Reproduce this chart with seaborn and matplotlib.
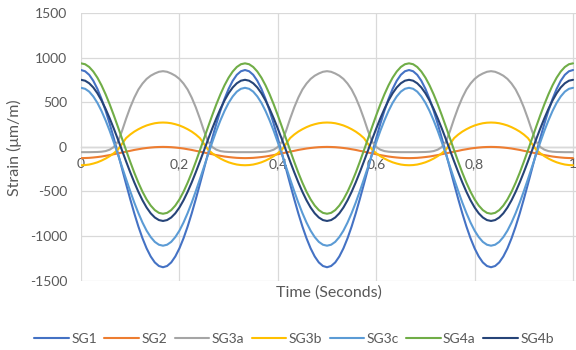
import numpy as np
import pandas as pd
import matplotlib
matplotlib.use("Agg")
import matplotlib.pyplot as plt
import seaborn as sns

# Logger runs at 120 Hz for one second
sample_rate_hz = 120
n_samples = 121
time_s = np.arange(n_samples) / sample_rate_hz

# Strain readings per gauge (um/m), one row per 1/3 s cycle
sg1 = [865, 851, 811, 744, 653, 540, 408, 260, 99, -70, -243, -416, -585, -746, -894, -1026, -1139, -1230, -1297, -1337, -1351, -1337, -1297, -1230, -1139, -1026, -894, -746, -585, -416, -243, -70, 99, 260, 408, 540, 653, 744, 811, 851,
       865, 851, 811, 744, 653, 540, 408, 260, 99, -70, -243, -416, -585, -746, -894, -1026, -1139, -1230, -1297, -1337, -1351, -1337, -1297, -1230, -1139, -1026, -894, -746, -585, -416, -243, -70, 99, 260, 408, 540, 653, 744, 811, 851,
       865, 851, 811, 744, 653, 540, 408, 260, 99, -70, -243, -416, -585, -746, -894, -1026, -1139, -1230, -1297, -1337, -1351, -1337, -1297, -1230, -1139, -1026, -894, -746, -585, -416, -243, -70, 99, 260, 408, 540, 653, 744, 811, 851,
       865]
sg2 = [-125, -124, -122, -118, -113, -107, -99, -91, -81, -72, -62, -52, -43, -33, -25, -17, -11, -6, -2, 0, 1, 0, -2, -6, -11, -17, -25, -33, -43, -52, -62, -72, -81, -91, -99, -107, -113, -118, -122, -124,
       -125, -124, -122, -118, -113, -107, -99, -91, -81, -72, -62, -52, -43, -33, -25, -17, -11, -6, -2, 0, 1, 0, -2, -6, -11, -17, -25, -33, -43, -52, -62, -72, -81, -91, -99, -107, -113, -118, -122, -124,
       -125, -124, -122, -118, -113, -107, -99, -91, -81, -72, -62, -52, -43, -33, -25, -17, -11, -6, -2, 0, 1, 0, -2, -6, -11, -17, -25, -33, -43, -52, -62, -72, -81, -91, -99, -107, -113, -118, -122, -124,
       -125]
sg3a = [-58, -58, -58, -57, -56, -53, -46, -30, 0, 60, 180, 318, 445, 555, 646, 713, 765, 801, 826, 845, 852, 845, 826, 801, 765, 713, 646, 555, 445, 318, 180, 60, 0, -30, -46, -53, -56, -57, -58, -58,
        -58, -58, -58, -57, -56, -53, -46, -30, 0, 60, 180, 318, 445, 555, 646, 713, 765, 801, 826, 845, 852, 845, 826, 801, 765, 713, 646, 555, 445, 318, 180, 60, 0, -30, -46, -53, -56, -57, -58, -58,
        -58, -58, -58, -57, -56, -53, -46, -30, 0, 60, 180, 318, 445, 555, 646, 713, 765, 801, 826, 845, 852, 845, 826, 801, 765, 713, 646, 555, 445, 318, 180, 60, 0, -30, -46, -53, -56, -57, -58, -58,
        -58]
sg3b = [-205, -203, -197, -186, -172, -153, -130, -103, -70, -30, 35, 100, 140, 173, 200, 223, 242, 256, 267, 273, 275, 273, 267, 256, 242, 223, 200, 173, 140, 100, 35, -30, -70, -103, -130, -153, -172, -186, -197, -203,
        -205, -203, -197, -186, -172, -153, -130, -103, -70, -30, 35, 100, 140, 173, 200, 223, 242, 256, 267, 273, 275, 273, 267, 256, 242, 223, 200, 173, 140, 100, 35, -30, -70, -103, -130, -153, -172, -186, -197, -203,
        -205, -203, -197, -186, -172, -153, -130, -103, -70, -30, 35, 100, 140, 173, 200, 223, 242, 256, 267, 273, 275, 273, 267, 256, 242, 223, 200, 173, 140, 100, 35, -30, -70, -103, -130, -153, -172, -186, -197, -203,
        -205]
sg3c = [665, 654, 622, 568, 496, 405, 299, 181, 52, -83, -222, -361, -496, -625, -743, -849, -940, -1012, -1066, -1098, -1109, -1098, -1066, -1012, -940, -849, -743, -625, -496, -361, -222, -83, 52, 181, 299, 405, 496, 568, 622, 654,
        665, 654, 622, 568, 496, 405, 299, 181, 52, -83, -222, -361, -496, -625, -743, -849, -940, -1012, -1066, -1098, -1109, -1098, -1066, -1012, -940, -849, -743, -625, -496, -361, -222, -83, 52, 181, 299, 405, 496, 568, 622, 654,
        665, 654, 622, 568, 496, 405, 299, 181, 52, -83, -222, -361, -496, -625, -743, -849, -940, -1012, -1066, -1098, -1109, -1098, -1066, -1012, -940, -849, -743, -625, -496, -361, -222, -83, 52, 181, 299, 405, 496, 568, 622, 654,
        665]
sg4a = [940, 930, 899, 848, 779, 693, 592, 479, 356, 227, 95, -37, -166, -289, -402, -503, -589, -658, -709, -740, -750, -740, -709, -658, -589, -503, -402, -289, -166, -37, 95, 227, 356, 479, 592, 693, 779, 848, 899, 930,
        940, 930, 899, 848, 779, 693, 592, 479, 356, 227, 95, -37, -166, -289, -402, -503, -589, -658, -709, -740, -750, -740, -709, -658, -589, -503, -402, -289, -166, -37, 95, 227, 356, 479, 592, 693, 779, 848, 899, 930,
        940, 930, 899, 848, 779, 693, 592, 479, 356, 227, 95, -37, -166, -289, -402, -503, -589, -658, -709, -740, -750, -740, -709, -658, -589, -503, -402, -289, -166, -37, 95, 227, 356, 479, 592, 693, 779, 848, 899, 930,
        940]
sg4b = [755, 745, 716, 669, 604, 523, 428, 322, 207, 86, -38, -162, -283, -398, -504, -599, -680, -745, -792, -821, -831, -821, -792, -745, -680, -599, -504, -398, -283, -162, -38, 86, 207, 322, 428, 523, 604, 669, 716, 745,
        755, 745, 716, 669, 604, 523, 428, 322, 207, 86, -38, -162, -283, -398, -504, -599, -680, -745, -792, -821, -831, -821, -792, -745, -680, -599, -504, -398, -283, -162, -38, 86, 207, 322, 428, 523, 604, 669, 716, 745,
        755, 745, 716, 669, 604, 523, 428, 322, 207, 86, -38, -162, -283, -398, -504, -599, -680, -745, -792, -821, -831, -821, -792, -745, -680, -599, -504, -398, -283, -162, -38, 86, 207, 322, 428, 523, 604, 669, 716, 745,
        755]

gauges = ["SG1", "SG2", "SG3a", "SG3b", "SG3c", "SG4a", "SG4b"]
colors = ["#4472C4", "#ED7D31", "#A5A5A5", "#FFC000", "#5B9BD5", "#70AD47", "#264478"]

x_ticks = [0, 0.2, 0.4, 0.6, 0.8, 1.0]
x_tick_labels = ["0", "0,2", "0,4", "0,6", "0,8", "1"]
y_ticks = [-1500, -1000, -500, 0, 500, 1000, 1500]
y_tick_labels = ["-1500", "-1000", "-500", "0", "500", "1000", "1500"]

series = [sg1, sg2, sg3a, sg3b, sg3c, sg4a, sg4b]
df = pd.concat(
    [pd.DataFrame({"time": time_s, "strain": vals, "gauge": name})
     for name, vals in zip(gauges, series)],
    ignore_index=True,
)

sns.set_theme(style="white")
plt.rcParams["font.family"] = ["Lato", "DejaVu Sans"]
plt.rcParams["axes.unicode_minus"] = False
text_color = "#595959"
line_w = 1.5

fig = plt.figure(figsize=(5.76, 3.5), dpi=100)
ax = fig.add_axes([81 / 576, 1 - 280.5 / 350, (576 - 81) / 576, (280.5 - 13.5) / 350])

sns.lineplot(data=df, x="time", y="strain", hue="gauge", hue_order=gauges,
             palette=colors, estimator=None, sort=False, linewidth=line_w,
             legend=False, ax=ax)

ax.set_xlim(0, 1.006)
ax.set_ylim(-1500, 1500)
ax.set_xticks(x_ticks)
ax.set_xticklabels(x_tick_labels)
ax.set_yticks(y_ticks)
ax.set_yticklabels(y_tick_labels)
ax.grid(True, color="#D9D9D9", linewidth=0.9)
ax.set_axisbelow(True)
for side in ["top", "right", "left"]:
    ax.spines[side].set_visible(False)
ax.spines["bottom"].set_position(("data", 0))
ax.spines["bottom"].set_color("#BFBFBF")
ax.spines["bottom"].set_linewidth(1.0)
ax.spines["bottom"].set_zorder(0.5)
ax.tick_params(axis="x", length=0, pad=8, labelsize=10, labelcolor=text_color)
ax.tick_params(axis="y", length=0, pad=10, labelsize=10, labelcolor=text_color)
ax.set_xlabel("")
ax.set_ylabel("")

fig.text(329 / 576, 1 - 293 / 350, "Time (Seconds)", ha="center", va="center",
         fontsize=11.5, color=text_color)
fig.text(14 / 576, 1 - 148 / 350, "Strain (\u03bcm/m)", ha="center", va="center",
         rotation=90, fontsize=11.5, color=text_color)

handles = [plt.Line2D([], [], color=c, linewidth=line_w) for c in colors]
fig.legend(handles, gauges, loc="center", bbox_to_anchor=(294 / 576, 1 - 339 / 350),
           ncol=7, frameon=False, fontsize=10, handlelength=2.5, handletextpad=0.15,
           columnspacing=0.55, borderpad=0, labelcolor=text_color)

fig.savefig("out.png", dpi=100)
